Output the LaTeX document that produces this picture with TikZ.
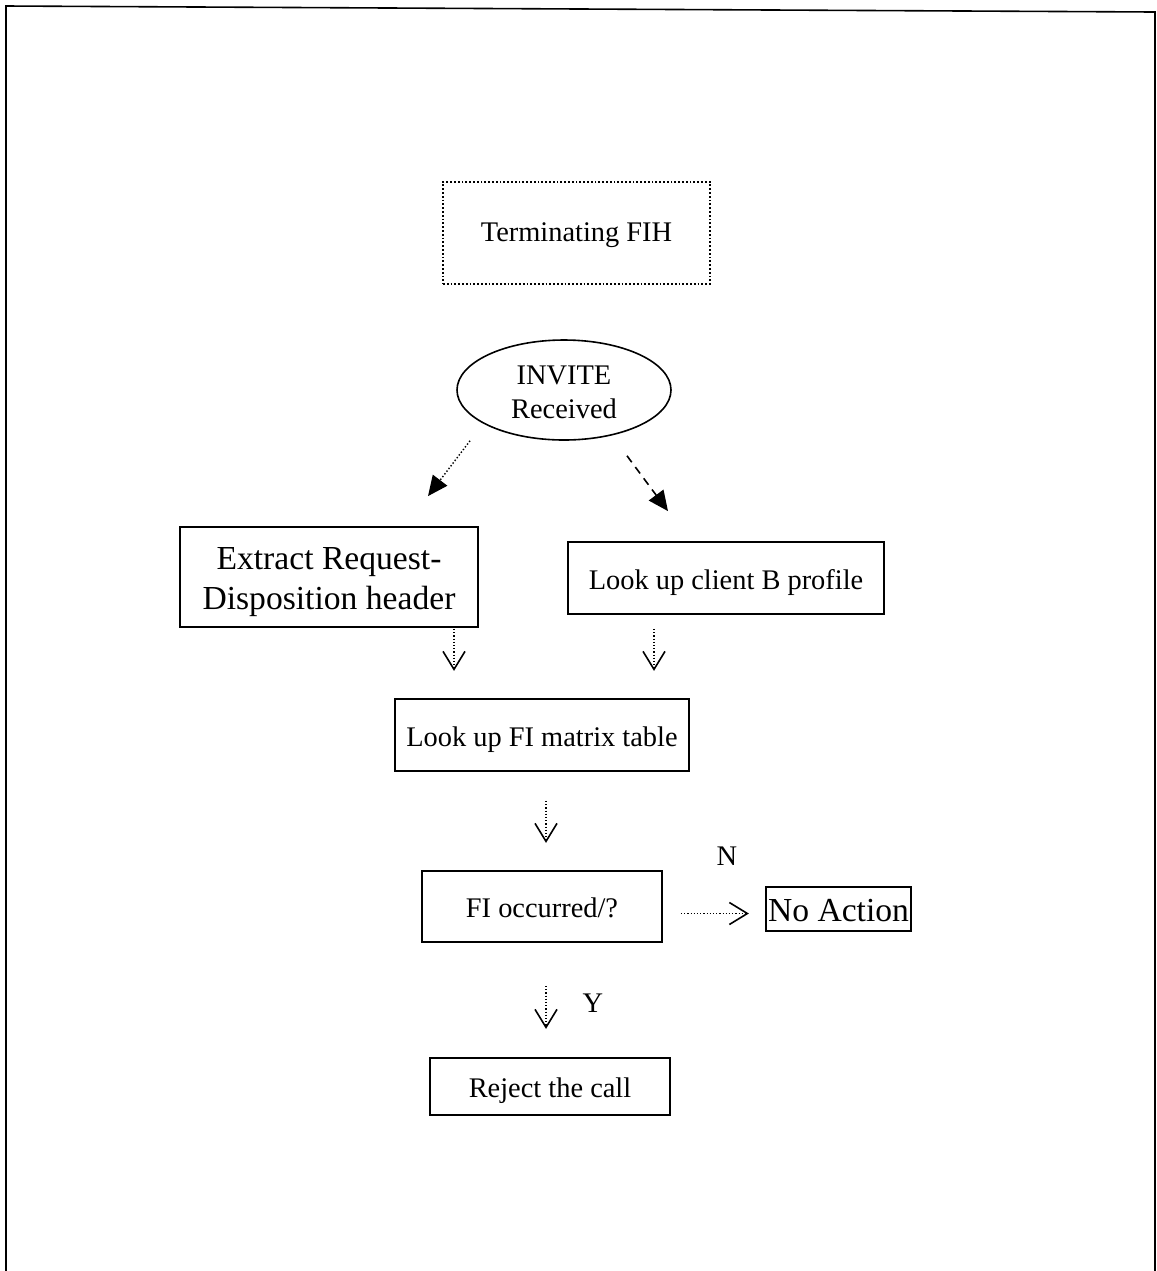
\documentclass[tikz,border=0pt]{standalone}
\usepackage{fontspec}
\setmainfont{Liberation Serif}
\usetikzlibrary{arrows.meta,shapes.geometric}
% lower a line of text without changing the box size used for centring
\newcommand\lowered[2]{\raisebox{-#1}[\height][\depth]{#2}}
\begin{document}
\begin{tikzpicture}[x=0.5pt,y=-0.5pt,
  box/.style={draw,line width=0.9pt,rectangle,inner sep=0pt,font=\fontsize{14.2}{17}\selectfont},
  bigbox/.style={box,font=\fontsize{16.8}{20}\selectfont},
  lbl/.style={font=\fontsize{14.2}{17}\selectfont,inner sep=0pt},
  openarrow/.style={densely dotted,line width=0.6pt,-{Straight Barb[length=9pt,width=11pt,line width=0.8pt]}},
  solidhead/.style={-{Triangle[length=10pt,width=9pt]}}
]
\useasboundingbox (0,0) rectangle (1157,1271);
% page frame
\draw[line width=0.8pt] (6,1275) -- (6,6) -- (1155,12) -- (1155,1275);

% nodes
\node[box,densely dotted,line width=0.6pt,minimum width=133.5pt,minimum height=51pt] (fih) at (576.5,233) {\lowered{1pt}{Terminating FIH}};
\node[draw,ellipse,line width=0.8pt,minimum width=107pt,minimum height=50pt,inner sep=0pt,align=center,
      font=\fontsize{14.2}{17}\selectfont] (inv) at (564,390) {\lowered{1pt}{INVITE}\\\lowered{1pt}{Received}};
\node[bigbox,align=center,minimum width=149pt,minimum height=50pt] (ext) at (329,577) {\lowered{2.5pt}{Extract Request-}\\\lowered{2.5pt}{Disposition header}};
\node[box,minimum width=158pt,minimum height=36pt] (prof) at (726,578) {\lowered{2.5pt}{Look up client B profile}};
\node[box,minimum width=147pt,minimum height=36pt] (fim) at (542,735) {\lowered{2.5pt}{Look up FI matrix table}};
\node[box,minimum width=120pt,minimum height=35.5pt] (occ) at (542,906.5) {\lowered{0.5pt}{FI occurred/?}};
\node[bigbox,minimum width=72.5pt,minimum height=22pt] (noact) at (838.5,909) {\lowered{1pt}{No Action}};
\node[box,minimum width=120pt,minimum height=28.5pt] (rej) at (550,1086.5) {\lowered{2pt}{Reject the call}};

% connectors
\draw[densely dotted,line width=0.7pt,solidhead] ([shift={(-94,0)}]inv.south) -- ([shift={(99,-30)}]ext.north);
\draw[line width=0.8pt,dash pattern=on 4pt off 3pt,solidhead] ([shift={(63,15)}]inv.south) -- ([shift={(-58,-30)}]prof.north);

\draw[openarrow] ([shift={(125,1)}]ext.south) -- ([shift={(125,43)}]ext.south);
\draw[openarrow] ([shift={(-72,14)}]prof.south) -- ([shift={(-72,56)}]prof.south);
\draw[openarrow] ([shift={(4,29)}]fim.south) -- ([shift={(4,71)}]fim.south);
\draw[openarrow] ([shift={(18,7)}]occ.east) -- ([shift={(86,7)}]occ.east);
\draw[openarrow] ([shift={(4,43)}]occ.south) -- ([shift={(4,86)}]occ.south);

% branch labels
\node[lbl] (nlab) at (727,856) {N};
\node[lbl] (ylab) at (593,1003) {Y};
\end{tikzpicture}
\end{document}
